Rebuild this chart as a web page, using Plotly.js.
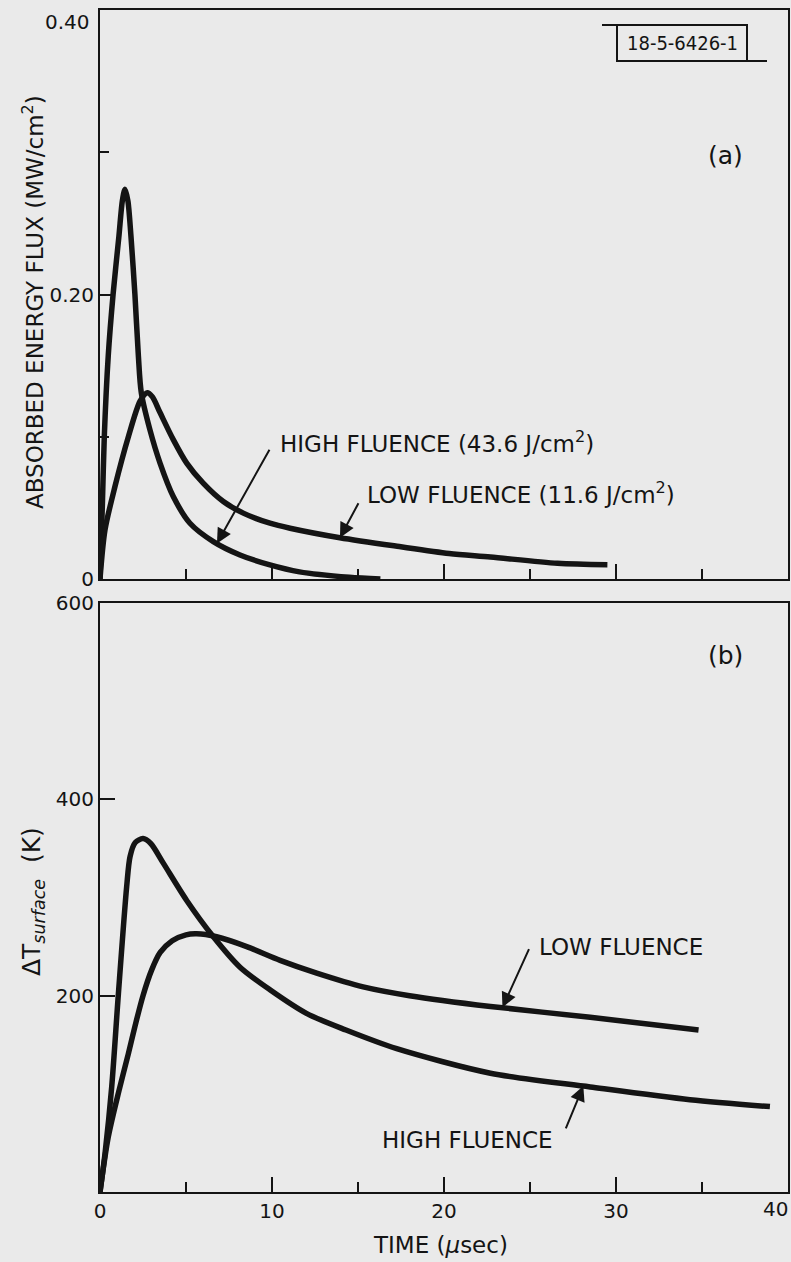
<!DOCTYPE html>
<html>
<head>
<meta charset="utf-8">
<script src="https://cdn.plot.ly/plotly-3.0.1.min.js"></script>
<style>
  html, body { margin: 0; padding: 0; background: #eaeaea; }
  #chart { width: 791px; height: 1262px; }
</style>
</head>
<body>
<div id="chart"></div>
<script>
// ---- Data ----
// (a) absorbed energy flux, MW/cm^2, vs time in microseconds
const fluxHighTime = [0, 0.14, 0.25, 0.48, 0.76, 1.1, 1.3, 1.45, 1.62, 1.8, 2.03, 2.23, 2.4, 2.9, 3.49, 4.26, 5.23, 6.59, 8.14, 9.88, 11.6, 14.5, 16.3];
const fluxHighValue = [0, 0.053, 0.100, 0.157, 0.200, 0.241, 0.266, 0.274, 0.266, 0.241, 0.200, 0.157, 0.131, 0.105, 0.0815, 0.058, 0.0392, 0.0263, 0.0169, 0.0099, 0.005, 0.0012, 0];

const fluxLowTime = [0, 0.29, 0.87, 1.65, 2.33, 2.75, 3.05, 3.49, 4.26, 5.04, 6.0, 7.17, 8.33, 9.88, 11.05, 13.95, 17.4, 20.3, 22.7, 26.6, 29.5];
const fluxLowValue = [0, 0.0345, 0.065, 0.100, 0.125, 0.131, 0.128, 0.117, 0.098, 0.0815, 0.0674, 0.0545, 0.0463, 0.0392, 0.0357, 0.029, 0.0228, 0.018, 0.0155, 0.011, 0.010];

// (b) surface temperature rise, K, vs time in microseconds
const tempHighTime = [0, 0.29, 0.68, 1.07, 1.55, 1.75, 2.05, 2.5, 2.95, 3.68, 5.04, 6.59, 8.14, 9.88, 12.0, 14.3, 17.25, 22.7, 28.5, 34.3, 38.95];
const tempHighValue = [0, 39, 107, 202, 311, 342, 356, 360, 355, 335, 297, 260, 229, 206, 182, 165, 146, 121, 107, 94, 87];

const tempLowTime = [0, 0.48, 1.1, 1.65, 2.05, 2.5, 3.0, 3.5, 4.2, 5.0, 5.62, 6.78, 8.53, 10.47, 12.6, 15.3, 18.0, 22.7, 28.5, 34.8];
const tempLowValue = [0, 56, 103, 141, 170, 200, 226, 244, 256, 262, 263, 260, 250, 236, 223, 209, 200, 189, 178, 165];

// Tick labels
const timeTickVals = [0, 10, 20, 30];
const timeTickText = ['0', '10', '20', '30'];
const timeMinorVals = [5, 15, 25, 35];
const fluxTickVals = [0, 0.2];
const fluxTickText = ['0', '0.20'];
const fluxMinorVals = [0.1, 0.3];
const tempTickVals = [200, 400, 600];
const tempTickText = ['200', '400', '600'];
// end labels drawn as annotations so they stay inside the page
const fluxTopLabel = '0.40';
const timeEndLabel = '40';

// ---- Layout helpers (pixel -> paper) ----
const W = 791, H = 1262;
const px = x => x / W;
const py = y => 1 - y / H;

const INK = '#141414';
const BG = '#eaeaea';
const FONT = 'DejaVu Sans';
const LABEL = 23;
const TICK = 20;
const lineStyle = { color: INK, width: 5.5, shape: 'spline', smoothing: 0.8 };

const traces = [
  { x: fluxHighTime, y: fluxHighValue, xaxis: 'x2', yaxis: 'y2', mode: 'lines', line: lineStyle, name: 'High fluence (43.6 J/cm²)' },
  { x: fluxLowTime, y: fluxLowValue, xaxis: 'x2', yaxis: 'y2', mode: 'lines', line: lineStyle, name: 'Low fluence (11.6 J/cm²)' },
  { x: tempHighTime, y: tempHighValue, xaxis: 'x', yaxis: 'y', mode: 'lines', line: lineStyle, name: 'High fluence' },
  { x: tempLowTime, y: tempLowValue, xaxis: 'x', yaxis: 'y', mode: 'lines', line: lineStyle, name: 'Low fluence' }
];

const axisCommon = {
  showline: true, linecolor: INK, linewidth: 2, mirror: true,
  showgrid: false, zeroline: false,
  ticks: 'inside', ticklen: 15, tickwidth: 2, tickcolor: INK,
  ticklabeloverflow: 'allow',
  tickfont: { family: FONT, size: TICK, color: INK },
  fixedrange: true
};

const xDomain = [px(100), px(788)];

const layout = {
  width: W, height: H,
  margin: { l: 0, r: 0, t: 0, b: 0, pad: 0 },
  paper_bgcolor: BG, plot_bgcolor: BG,
  showlegend: false,
  font: { family: FONT, color: INK },
  xaxis: Object.assign({}, axisCommon, {
    domain: xDomain, anchor: 'y', range: [0, 40],
    tickmode: 'array', tickvals: timeTickVals, ticktext: timeTickText,
    minor: { tickmode: 'array', tickvals: timeMinorVals, ticks: 'inside', ticklen: 10, tickwidth: 2, tickcolor: INK }
  }),
  yaxis: Object.assign({}, axisCommon, {
    domain: [py(1192), py(603)], anchor: 'x', range: [0, 600],
    tickmode: 'array', tickvals: tempTickVals, ticktext: tempTickText
  }),
  xaxis2: Object.assign({}, axisCommon, {
    domain: xDomain, anchor: 'y2', range: [0, 40],
    tickmode: 'array', tickvals: timeTickVals, showticklabels: false,
    minor: { tickmode: 'array', tickvals: timeMinorVals, ticks: 'inside', ticklen: 10, tickwidth: 2, tickcolor: INK }
  }),
  yaxis2: Object.assign({}, axisCommon, {
    domain: [py(579), py(10)], anchor: 'x2', range: [0, 0.40],
    tickmode: 'array', tickvals: fluxTickVals, ticktext: fluxTickText,
    minor: { tickmode: 'array', tickvals: fluxMinorVals, ticks: 'inside', ticklen: 9, tickwidth: 2, tickcolor: INK }
  }),
  shapes: [
    // figure-number box with offset rule lines
    { type: 'rect', xref: 'paper', yref: 'paper', x0: px(617), x1: px(747), y0: py(61), y1: py(25), line: { color: INK, width: 2 } },
    { type: 'line', xref: 'paper', yref: 'paper', x0: px(602), x1: px(617), y0: py(25), y1: py(25), line: { color: INK, width: 2 } },
    { type: 'line', xref: 'paper', yref: 'paper', x0: px(747), x1: px(767), y0: py(61), y1: py(61), line: { color: INK, width: 2 } }
  ],
  annotations: [
    { xref: 'paper', yref: 'paper', x: px(92), y: py(22), text: fluxTopLabel, showarrow: false,
      font: { family: FONT, size: TICK, color: INK }, xanchor: 'right', yanchor: 'middle' },
    { xref: 'paper', yref: 'paper', x: px(790), y: py(1209), text: timeEndLabel, showarrow: false,
      font: { family: FONT, size: TICK, color: INK }, xanchor: 'right', yanchor: 'middle' },
    { xref: 'paper', yref: 'paper', x: px(682), y: py(43), text: '18-5-6426-1', showarrow: false,
      font: { family: 'DejaVu Sans Condensed', size: 20, color: INK }, xanchor: 'center', yanchor: 'middle' },
    { xref: 'paper', yref: 'paper', x: px(725), y: py(155), text: '(a)', showarrow: false,
      font: { family: FONT, size: 25, color: INK }, xanchor: 'center', yanchor: 'middle' },
    { xref: 'paper', yref: 'paper', x: px(725), y: py(655), text: '(b)', showarrow: false,
      font: { family: FONT, size: 25, color: INK }, xanchor: 'center', yanchor: 'middle' },
    // axis titles
    { xref: 'paper', yref: 'paper', x: px(33), y: py(302), text: 'ABSORBED ENERGY FLUX (MW/cm<sup>2</sup>)', showarrow: false,
      textangle: -90, font: { family: FONT, size: LABEL, color: INK }, xanchor: 'center', yanchor: 'middle' },
    { xref: 'paper', yref: 'paper', x: px(33), y: py(902), text: 'ΔT<sub><i>surface</i></sub>  (K)', showarrow: false,
      textangle: -90, font: { family: FONT, size: 25, color: INK }, xanchor: 'center', yanchor: 'middle' },
    { xref: 'paper', yref: 'paper', x: px(440), y: py(1245), text: 'TIME (<i>μ</i>sec)', showarrow: false,
      font: { family: FONT, size: LABEL, color: INK }, xanchor: 'center', yanchor: 'middle' },
    // curve labels (a)
    { xref: 'paper', yref: 'paper', x: px(278), y: py(442), text: 'HIGH FLUENCE (43.6 J/cm<sup>2</sup>)', showarrow: false,
      font: { family: FONT, size: LABEL, color: INK }, xanchor: 'left', yanchor: 'middle' },
    { xref: 'paper', yref: 'paper', x: px(365), y: py(493), text: 'LOW FLUENCE (11.6 J/cm<sup>2</sup>)', showarrow: false,
      font: { family: FONT, size: LABEL, color: INK }, xanchor: 'left', yanchor: 'middle' },
    // curve labels (b)
    { xref: 'paper', yref: 'paper', x: px(537), y: py(947), text: 'LOW FLUENCE', showarrow: false,
      font: { family: FONT, size: LABEL, color: INK }, xanchor: 'left', yanchor: 'middle' },
    { xref: 'paper', yref: 'paper', x: px(555), y: py(1140), text: 'HIGH FLUENCE', showarrow: false,
      font: { family: FONT, size: LABEL, color: INK }, xanchor: 'right', yanchor: 'middle' },
    // arrows (tip on curve, tail at label)
    { xref: 'x2', yref: 'y2', x: 6.8, y: 0.025, ax: 56, ay: -100, text: ' ', showarrow: true,
      arrowhead: 2, arrowsize: 1.5, arrowwidth: 2, arrowcolor: INK },
    { xref: 'x2', yref: 'y2', x: 13.95, y: 0.029, ax: 22, ay: -41, text: ' ', showarrow: true,
      arrowhead: 2, arrowsize: 1.5, arrowwidth: 2, arrowcolor: INK },
    { xref: 'x', yref: 'y', x: 23.4, y: 188, ax: 30, ay: -66, text: ' ', showarrow: true,
      arrowhead: 2, arrowsize: 1.5, arrowwidth: 2, arrowcolor: INK },
    { xref: 'x', yref: 'y', x: 28.1, y: 108, ax: -21, ay: 51, text: ' ', showarrow: true,
      arrowhead: 2, arrowsize: 1.5, arrowwidth: 2, arrowcolor: INK }
  ]
};

Plotly.newPlot('chart', traces, layout, { staticPlot: true, displayModeBar: false });
</script>
</body>
</html>
